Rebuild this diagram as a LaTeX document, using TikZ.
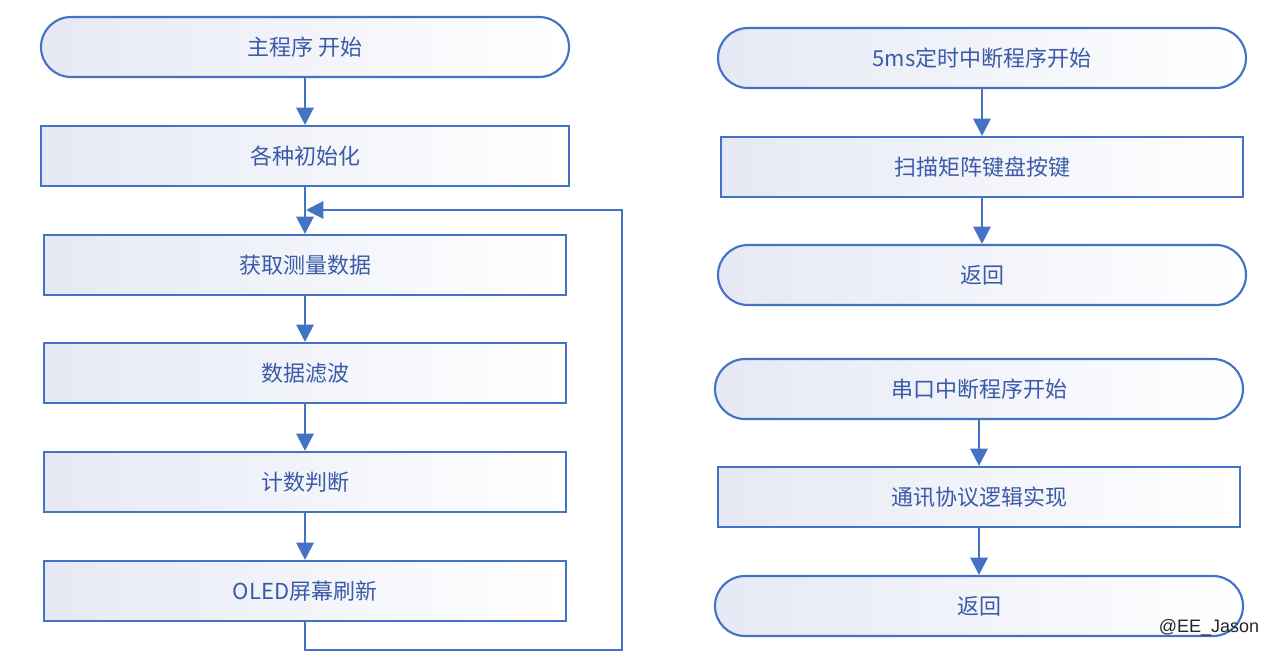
\documentclass[tikz,border=0pt]{standalone}
\usepackage{fontspec}
\setmainfont{Noto Sans CJK SC}
\newfontfamily\markfont{Liberation Sans}
\usetikzlibrary{arrows.meta}
\definecolor{lineblue}{HTML}{4472C4}
\definecolor{textblue}{HTML}{3B5BA9}
\definecolor{fillblue}{HTML}{E6E9F5}

\begin{document}
\begin{tikzpicture}[x=0.75pt,y=-0.75pt,
    box/.style={draw=lineblue, line width=1.6pt, left color=fillblue, right color=white,
      text=textblue, font=\fontsize{16.5pt}{19pt}\selectfont,
      minimum height=45pt, inner sep=0pt},
    terminal/.style={box, rounded corners=22.5pt, minimum width=396pt},
    process/.style={box, minimum width=391.5pt},
    flow/.style={draw=lineblue, line width=1.6pt, -{Triangle[length=13pt,width=13pt]}}]
  \useasboundingbox (0,0) rectangle (1279,658);

  % Main program
  \node[terminal] (mainstart) at (305,47) {主程序 开始};
  \node[box, minimum width=396pt] (init) at (305,156) {各种初始化};
  \node[process] (measure) at (305,265) {获取测量数据};
  \node[process] (filter) at (305,373) {数据滤波};
  \node[process] (count) at (305,482) {计数判断};
  \node[process] (oled) at (305,591) {OLED屏幕刷新};

  \draw[flow] (mainstart) -- (init);
  \draw[flow] (init) -- (measure);
  \draw[flow] (measure) -- (filter);
  \draw[flow] (filter) -- (count);
  \draw[flow] (count) -- (oled);

  % Loop back
  \coordinate (loopB) at (622,650);
  \coordinate (loopR) at (622,210);
  \coordinate (loopJ) at (306,210);
  \draw[flow] (oled.south) |- (loopB) -- (loopR) -- (loopJ);

  % 5ms timer interrupt
  \node[terminal] (timerstart) at (982,58) {5ms定时中断程序开始};
  \node[process] (scan) at (982,167) {扫描矩阵键盘按键};
  \node[terminal] (timerret) at (982,275) {返回};
  \draw[flow] (timerstart) -- (scan);
  \draw[flow] (scan) -- (timerret);

  % UART interrupt
  \node[terminal] (uartstart) at (979,389) {串口中断程序开始};
  \node[process] (proto) at (979,497) {通讯协议逻辑实现};
  \node[terminal] (uartret) at (979,606) {返回};
  \draw[flow] (uartstart) -- (proto);
  \draw[flow] (proto) -- (uartret);

  % Watermark
  \node[font=\markfont\fontsize{13.5pt}{15pt}\selectfont, text=black!85] (mark) at (1209,628) {@EE\_Jason};
\end{tikzpicture}
\end{document}
